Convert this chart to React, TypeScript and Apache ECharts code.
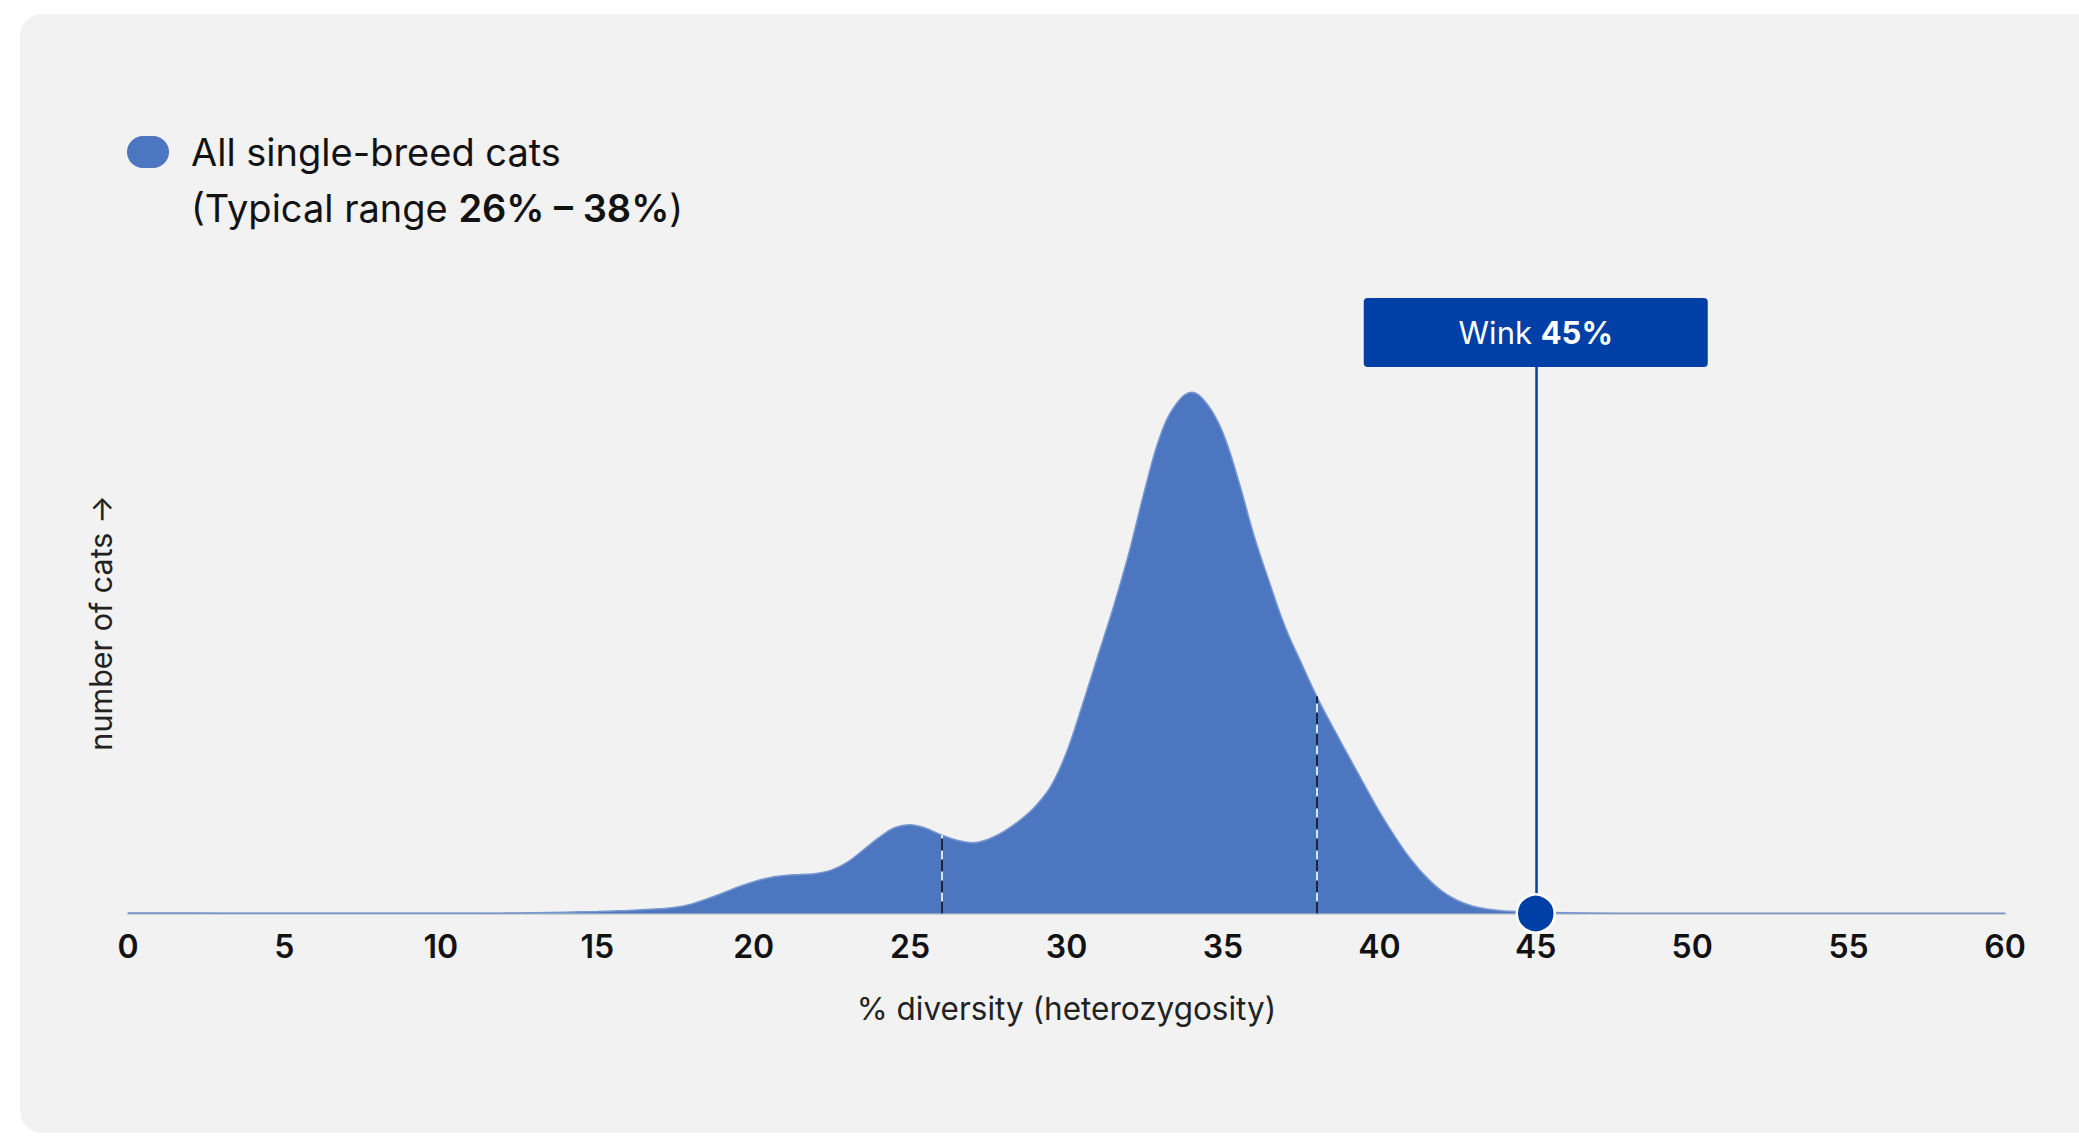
import React, { useEffect, useRef } from "react";
import * as echarts from "echarts";

// % diversity (heterozygosity) sample points and relative number of cats
const DIVERSITY = [
  0, 2, 4, 6, 8, 10, 12, 13, 14,
  15, 15.5, 16, 16.5, 17, 17.5, 18, 18.5, 19, 19.5, 20, 20.5, 21, 21.5, 22, 22.5, 23, 23.5, 24, 24.5,
  25, 25.5, 26, 26.5, 27, 27.5, 28, 28.5, 29, 29.5, 30, 30.5, 31, 31.5, 32, 32.5, 33, 33.5, 34, 34.5,
  35, 35.5, 36, 36.5, 37, 37.5, 38, 38.5, 39, 39.5, 40, 40.5, 41, 41.5, 42, 42.5, 43, 43.5, 44, 44.5,
  45, 46, 47, 48, 50, 52, 54, 56, 58, 60,
];
const CAT_COUNT = [
  0.1, 0.08, 0.06, 0.05, 0.05, 0.05, 0.08, 0.15, 0.25,
  0.4, 0.5, 0.6, 0.75, 0.9, 1.2, 1.8, 2.8, 3.9, 5.1, 6.1, 6.9, 7.3, 7.5, 7.7, 8.4, 9.9, 12.2, 14.6, 16.5,
  17.1, 16.4, 15.1, 14.1, 13.6, 14.3, 15.8, 17.9, 20.6, 24.5, 31, 40, 49.5, 59, 69.5, 81.5, 92, 98, 100.3, 98,
  92.5, 83.3, 72.6, 63.5, 55, 48.3, 41.8, 36, 30.5, 25, 19.6, 14.8, 10.5, 7, 4.3, 2.5, 1.4, 0.8, 0.5, 0.35,
  0.25, 0.15, 0.05, 0, 0, 0, 0, 0, 0, 0,
];

const TYPICAL_RANGE = [26, 38];
const WINK_NAME = "Wink";
const WINK_VALUE = 45;
const SERIES_NAME = "All single-breed cats";
const X_MIN = 0;
const X_MAX = 60;
const X_INTERVAL = 5;

const FONT = "Inter, 'Noto Sans', sans-serif";
const AREA_BLUE = "#4c77c0";
const DARK_BLUE = "#003fa5";
const TEXT = "#121212";

export default function App() {
  const ref = useRef<HTMLDivElement>(null);

  useEffect(() => {
    if (!ref.current) return;
    const chart = echarts.init(ref.current, null, { renderer: "svg" });
    const valueAt = (x: number) => CAT_COUNT[DIVERSITY.indexOf(x)];

    const Y_MAX = 120;
    const WINK_LINE_TOP = 105.2;
    const WINK_LABEL_Y = 111.8;

    const rangeLines: any[] = [];
    TYPICAL_RANGE.forEach((x) => {
      rangeLines.push([
        { coord: [x, 0], lineStyle: { color: "#d6e4f8", width: 2, type: "solid" } },
        { coord: [x, valueAt(x)] },
      ]);
    });
    TYPICAL_RANGE.forEach((x) => {
      rangeLines.push([
        { coord: [x, 0], lineStyle: { color: "#1b2640", width: 2, type: [12, 9] } },
        { coord: [x, valueAt(x)] },
      ]);
    });

    const option: any = {
      animation: false,
      backgroundColor: "#ffffff",
      textStyle: { fontFamily: FONT },
      graphic: [
        {
          type: "rect",
          z: -10,
          silent: true,
          shape: { x: 20, y: 14, width: 2120, height: 1119, r: 22 },
          style: { fill: "#f2f2f2" },
        },
        {
          type: "text",
          x: 191,
          y: 208,
          silent: true,
          style: {
            text: `(Typical range {b|${TYPICAL_RANGE[0]}% – ${TYPICAL_RANGE[1]}%})`,
            fontSize: 38,
            fontFamily: FONT,
            fill: TEXT,
            verticalAlign: "middle",
            align: "left",
            rich: {
              b: { fontSize: 38, fontFamily: FONT, fontWeight: 600, fill: TEXT, color: TEXT },
            },
          },
        },
      ],
      legend: {
        data: [SERIES_NAME],
        left: 127,
        top: 133,
        padding: 0,
        itemWidth: 42,
        itemHeight: 32,
        icon: "path://M16,0 H26 A16,16 0 0 1 26,32 H16 A16,16 0 0 1 16,0 Z",
        selectedMode: false,
        textStyle: {
          fontSize: 38,
          color: TEXT,
          fontFamily: FONT,
          rich: { a: { fontSize: 38, color: TEXT, fontFamily: FONT, padding: [0, 0, 0, 17] } },
        },
        formatter: (name: string) => `{a|${name}}`,
      },
      grid: { left: 128, right: 74, top: 290, bottom: 222.5, containLabel: false },
      xAxis: {
        type: "value",
        min: X_MIN,
        max: X_MAX,
        interval: X_INTERVAL,
        name: "% diversity (heterozygosity)",
        nameLocation: "middle",
        nameGap: 79,
        nameTextStyle: { fontSize: 31.5, color: "#222", fontFamily: FONT },
        axisLine: { show: true, lineStyle: { color: "#d2d2d2", width: 3 } },
        axisTick: { show: false },
        splitLine: { show: false },
        axisLabel: { fontSize: 32, fontWeight: 600, color: TEXT, margin: 17, fontFamily: FONT },
      },
      yAxis: {
        type: "value",
        min: 0,
        max: Y_MAX,
        name: "number of cats →",
        nameLocation: "middle",
        nameRotate: 90,
        nameGap: 12,
        nameTextStyle: { fontSize: 30.5, color: "#222", fontFamily: FONT, padding: [0, 42, 0, 0] },
        axisLine: { show: false },
        axisTick: { show: false },
        axisLabel: { show: false },
        splitLine: { show: false },
      },
      series: [
        {
          name: SERIES_NAME,
          type: "line",
          data: DIVERSITY.map((x, i) => [x, CAT_COUNT[i]]),
          smooth: 0.4,
          showSymbol: false,
          symbol: "none",
          itemStyle: { color: AREA_BLUE },
          lineStyle: { color: "#7797d0", width: 1.5 },
          areaStyle: { color: AREA_BLUE, opacity: 1 },
          z: 2,
          silent: true,
          markLine: {
            silent: true,
            symbol: ["none", "none"],
            label: { show: false },
            animation: false,
            data: rangeLines,
          },
        },
        {
          name: WINK_NAME,
          type: "scatter",
          data: [[WINK_VALUE, 0]],
          symbol: "circle",
          symbolSize: 38,
          itemStyle: { color: DARK_BLUE, borderColor: "#ffffff", borderWidth: 2.5, opacity: 1 },
          z: 6,
          silent: true,
          markLine: {
            silent: true,
            symbol: ["none", "none"],
            label: { show: false },
            lineStyle: { color: DARK_BLUE, width: 2.5, type: "solid" },
            data: [[{ coord: [WINK_VALUE, 0] }, { coord: [WINK_VALUE, WINK_LINE_TOP] }]],
          },
          markPoint: {
            silent: true,
            symbol: "path://M4,0 H340 A4,4 0 0 1 344,4 V65 A4,4 0 0 1 340,69 H4 A4,4 0 0 1 0,65 V4 A4,4 0 0 1 4,0 Z",
            symbolSize: [344, 69],
            itemStyle: { color: DARK_BLUE },
            label: {
              show: true,
              position: "inside",
              formatter: `{a|${WINK_NAME} }{b|${WINK_VALUE}%}`,
              rich: {
                a: { fontSize: 31, color: "#ffffff", fontFamily: FONT },
                b: { fontSize: 31, color: "#ffffff", fontFamily: FONT, fontWeight: 700 },
              },
            },
            data: [{ coord: [WINK_VALUE, WINK_LABEL_Y] }],
          },
        },
      ],
    };

    chart.setOption(option);
    return () => chart.dispose();
  }, []);

  return (
    <div
      ref={ref}
      style={{ position: "fixed", left: 0, top: 0, width: 2079, height: 1136 }}
    />
  );
}
